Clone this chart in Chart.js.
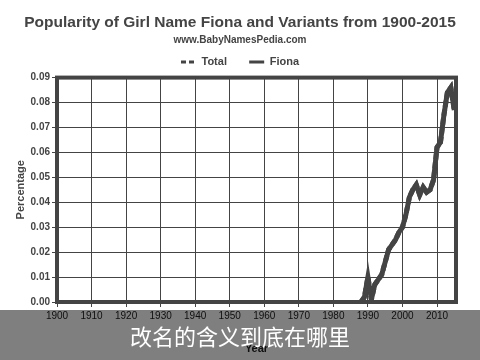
<!DOCTYPE html>
<html>
<head>
<meta charset="utf-8">
<script src="https://cdn.jsdelivr.net/npm/chart.js@4"></script>
<style>
  html, body { margin: 0; padding: 0; background: #fff; }
  #wrap { position: relative; width: 480px; height: 360px; }
  #caption {
    position: absolute; left: 0; top: 310px; width: 480px; height: 50px;
    background: rgba(0, 0, 0, 0.5); color: #fff;
    font-family: "Noto Sans CJK SC", sans-serif; font-size: 22px;
    text-align: center; line-height: 50px;
  }
</style>
</head>
<body>
<div id="wrap">
  <canvas id="chart" width="480" height="360"></canvas>
  <div id="caption">改名的含义到底在哪里</div>
</div>
<script>
const years = [1988, 1989, 1990, 1991, 1992, 1993, 1994, 1995, 1996, 1997, 1998, 1999, 2000, 2001,
               2002, 2003, 2004, 2005, 2006, 2007, 2008, 2009, 2010, 2011, 2012, 2013, 2014, 2015];
const fiona = [0.000, 0.002, 0.010, 0.001, 0.007, 0.009, 0.011, 0.016, 0.021, 0.023, 0.025, 0.028, 0.030, 0.035,
               0.042, 0.045, 0.047, 0.043, 0.046, 0.044, 0.045, 0.049, 0.062, 0.064, 0.075, 0.084, 0.086, 0.077];
const total = [0.000, 0.002, 0.010, 0.001, 0.007, 0.009, 0.011, 0.016, 0.021, 0.023, 0.025, 0.028, 0.030, 0.035,
               0.042, 0.045, 0.047, 0.043, 0.046, 0.044, 0.045, 0.049, 0.062, 0.064, 0.075, 0.084, 0.086, 0.077];
const xTicks = [1900, 1910, 1920, 1930, 1940, 1950, 1960, 1970, 1980, 1990, 2000, 2010];

const dark = '#444';
const sans = '"Liberation Sans", Arial, sans-serif';

const frame = {
    id: 'frame',
    afterDatasetsDraw(chart) {
        const a = chart.chartArea;
        const ctx = chart.ctx;
        ctx.save();
        ctx.strokeStyle = dark;
        ctx.lineWidth = 4;
        ctx.strokeRect(a.left, a.top, a.right - a.left, a.bottom - a.top);
        ctx.restore();
    }
};

new Chart(document.getElementById('chart'), {
    type: 'line',
    data: {
        datasets: [{
            label: 'Total',
            data: years.map((y, i) => ({ x: y, y: total[i] })),
            borderColor: dark,
            borderWidth: 5,
            borderDash: [6, 3],
            pointRadius: 0,
            tension: 0
        },
        {
            label: 'Fiona',
            data: years.map((y, i) => ({ x: y, y: fiona[i] })),
            borderColor: dark,
            borderWidth: 5,
            pointRadius: 0,
            tension: 0
        }]
    },
    options: {
        responsive: false,
        animation: false,
        layout: { padding: { top: 7, right: 0, left: 0, bottom: 0 } },
        plugins: {
            title: {
                display: true,
                text: 'Popularity of Girl Name Fiona and Variants from 1900-2015',
                color: dark,
                font: { family: sans, size: 15.5, weight: 'bold' },
                padding: { top: 6, bottom: 3 }
            },
            subtitle: {
                display: true,
                text: 'www.BabyNamesPedia.com',
                color: dark,
                font: { family: sans, size: 10, weight: 'bold' },
                padding: { top: 0, bottom: 0 }
            },
            legend: {
                labels: {
                    color: dark,
                    usePointStyle: true,
                    pointStyle: 'line',
                    pointStyleWidth: 15,
                    boxHeight: 8,
                    padding: 10,
                    font: { family: sans, size: 11, weight: 'bold' },
                    generateLabels(chart) {
                        const items = Chart.defaults.plugins.legend.labels.generateLabels(chart);
                        items.forEach(it => {
                            it.lineWidth = 3;
                            it.lineDash = it.text === 'Total' ? [5, 3] : [];
                            if (it.text === 'Total') it.text = 'Total    ';
                        });
                        return items;
                    }
                }
            },
            tooltip: { enabled: false }
        },
        scales: {
            x: {
                type: 'linear',
                min: 1900,
                max: 2015.5,
                afterFit(scale) { scale.height = 58; },
                afterBuildTicks(scale) {
                    scale.ticks = xTicks.map(v => ({ value: v }));
                },
                ticks: {
                    color: '#222',
                    font: { family: sans, size: 10 },
                    maxRotation: 0,
                    callback: v => String(v)
                },
                grid: { color: dark, lineWidth: 1, tickLength: 5 },
                border: { color: dark, width: 4 },
                title: {
                    display: true,
                    text: 'Year',
                    color: '#222',
                    font: { family: sans, size: 11, weight: 'bold' },
                    padding: { top: 4 }
                }
            },
            y: {
                min: 0,
                max: 0.09,
                afterFit(scale) { scale.width = 57; },
                ticks: {
                    stepSize: 0.01,
                    color: dark,
                    font: { family: sans, size: 10, weight: 'bold' },
                    callback: v => v.toFixed(2),
                    padding: 2
                },
                grid: { color: dark, lineWidth: 1, tickLength: 5 },
                border: { color: dark, width: 4 },
                title: {
                    display: true,
                    text: 'Percentage',
                    color: dark,
                    font: { family: sans, size: 11, weight: 'bold' },
                    padding: { top: 14, bottom: 2 }
                }
            },
            yRight: {
                position: 'right',
                min: 0,
                max: 0.09,
                afterFit(scale) { scale.width = 24; },
                ticks: { display: false },
                grid: { display: false },
                border: { display: false }
            }
        }
    },
    plugins: [frame]
});
</script>
</body>
</html>
